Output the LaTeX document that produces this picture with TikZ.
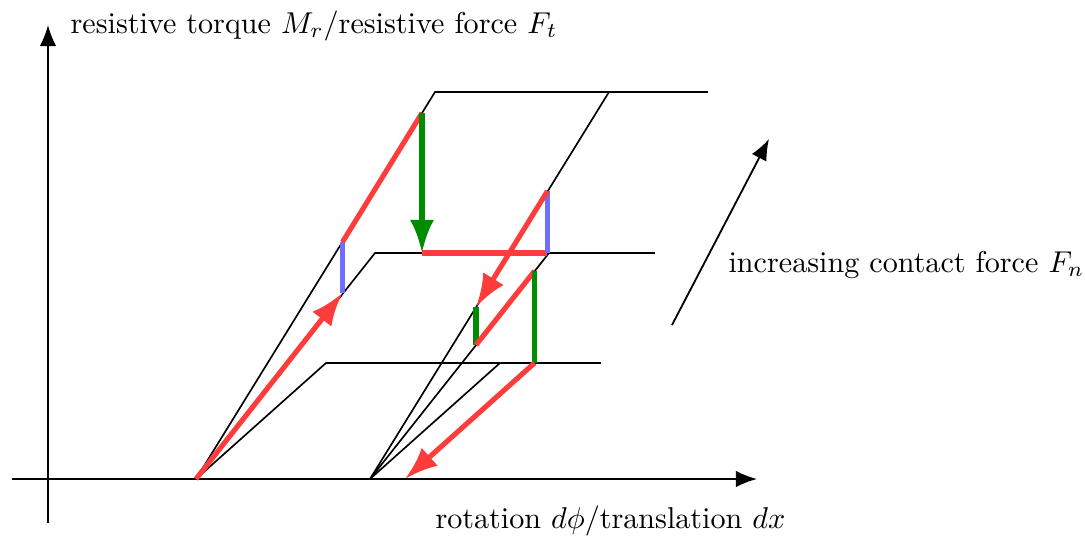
\documentclass[tikz,border=0pt]{standalone}
\usetikzlibrary{arrows.meta}
\definecolor{myred}{RGB}{255,60,60}
\definecolor{mygreen}{RGB}{0,140,0}
\definecolor{myblue}{RGB}{110,110,255}
\begin{document}
\begin{tikzpicture}[x=0.332pt,y=-0.332pt,
  thinline/.style={line width=0.55pt,black},
  axisarrow/.style={line width=0.6pt,black,-{Latex[length=7pt,width=5.5pt]}},
  redline/.style={line width=1.7pt,myred},
  redarrow/.style={line width=1.7pt,myred,-{Latex[length=11pt,width=8pt]}},
  greenline/.style={line width=1.7pt,mygreen},
  greenarrow/.style={line width=1.7pt,mygreen,-{Latex[length=11pt,width=8pt]}},
  blueline/.style={line width=1.7pt,myblue},
  lab/.style={inner sep=0pt,anchor=base west}]
\useasboundingbox (0,0) rectangle (1085,536);
% axes
\coordinate (xs) at (12,479);
\coordinate (xe) at (757,479);
\coordinate (ys) at (48,523);
\coordinate (ye) at (48,25);
\draw[axisarrow] (xs) -- (xe);
\draw[axisarrow] (ys) -- (ye);
% origins and characteristic corners
\coordinate (O1) at (196,479);
\coordinate (O2) at (370,479);
\coordinate (T1) at (435,92);
\coordinate (T2) at (708,92);
\coordinate (T3) at (609,92);
\coordinate (M1) at (375,253);
\coordinate (M2) at (655,253);
\coordinate (M3) at (549,253);
\coordinate (L1) at (326,363);
\coordinate (L2) at (601,363);
\coordinate (L3) at (500,363);
\draw[thinline] (O1) -- (T1) -- (T2);
\draw[thinline] (O1) -- (M1) -- (M2);
\draw[thinline] (O1) -- (L1) -- (L2);
\draw[thinline] (O2) -- (T3);
\draw[thinline] (O2) -- (M3);
\draw[thinline] (O2) -- (L3);
% path points
\coordinate (P2) at (342.5,293);
\coordinate (P3) at (342.5,242);
\coordinate (P4) at (422,113);
\coordinate (P5) at (422,253);
\coordinate (P6) at (547.5,253);
\coordinate (P7) at (547.5,191);
\coordinate (P8) at (476,307);
\coordinate (P9) at (476,345);
\coordinate (P10) at (534.5,271);
\coordinate (P11) at (534.5,363);
\coordinate (P12) at (405,479);
\draw[redarrow] (O1) -- (P2);
\draw[blueline] (P2) -- (P3);
\draw[redline] (P3) -- (P4);
\draw[greenarrow] (P4) -- (P5);
\draw[redline] (P5) -- (P6);
\draw[blueline] (P6) -- (P7);
\draw[redarrow] (P7) -- (P8);
\draw[greenline] (P8) -- (P9);
\draw[redline] (P9) -- (P10);
\draw[greenline] (P10) -- (P11);
\draw[redarrow] (P11) -- (P12);
% increasing force arrow
\coordinate (fs) at (672,325);
\coordinate (fe) at (769,139);
\draw[axisarrow] (fs) -- (fe);
% labels
\node[lab] (ylab) at (70,33) {resistive torque $M_r$/resistive force $F_t$};
\node[lab] (xlab) at (435,528) {rotation $d\phi$/translation $dx$};
\node[lab] (flab) at (728,272) {increasing contact force $F_n$};
\end{tikzpicture}
\end{document}
